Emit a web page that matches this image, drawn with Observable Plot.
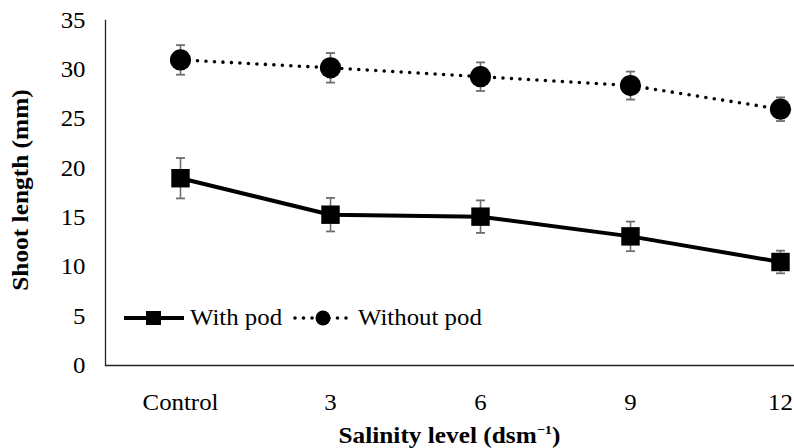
<!DOCTYPE html>
<html><head><meta charset="utf-8">
<script src="https://cdn.jsdelivr.net/npm/d3@7"></script>
<script src="https://cdn.jsdelivr.net/npm/@observablehq/plot@0.6"></script>
<style>
body{margin:0;background:#fff}
#wrap{position:relative;width:794px;height:448px;font-family:"Liberation Serif","Times New Roman",Times,"DejaVu Serif",serif;color:#000}
#wrap svg text{font-family:"Liberation Serif","Times New Roman",Times,"DejaVu Serif",serif}
#xtitle{position:absolute;left:105px;width:689px;top:422px;text-align:center;font-weight:bold;font-size:23px;line-height:28px;transform:scaleX(1.1)}
#xtitle sup{font-size:13px;vertical-align:9px;line-height:0}
#ytitle{position:absolute;left:20px;top:190px;width:0;height:0}
#ytitle span{position:absolute;left:0;top:0;transform:translate(-50%,-50%) rotate(-90deg) scaleX(1.08);white-space:nowrap;font-weight:bold;font-size:23.5px;line-height:26px}
</style></head><body><div id="wrap"></div>
<script>
const categories = ["Control","3","6","9","12"];
const withPod = [19.0,15.3,15.1,13.1,10.5];
const withPodErr = [2.05,1.7,1.65,1.5,1.15];
const withoutPod = [31.0,30.2,29.3,28.4,26.0];
const withoutPodErr = [1.5,1.5,1.45,1.42,1.2];
const yTicks = [0,5,10,15,20,25,30,35];
const seriesNames = ["With pod","Without pod"];
const yTitle = "Shoot length (mm)";
const xTitle = "Salinity level (dsm";
const xTitleSup = "−1";

const rows = [];
categories.forEach((c,i)=>{
  rows.push({cat:c, series:seriesNames[0], v:withPod[i], e:withPodErr[i]});
  rows.push({cat:c, series:seriesNames[1], v:withoutPod[i], e:withoutPodErr[i]});
});
const A = rows.filter(d=>d.series===seriesNames[0]);
const B = rows.filter(d=>d.series===seriesNames[1]);

const capSymbol = {draw(ctx,size){const r=Math.sqrt(size/Math.PI);ctx.moveTo(-r,0);ctx.lineTo(r,0);}};
const serif = "Liberation Serif, Times New Roman, Times, DejaVu Serif, serif";
const STRETCH = 1.08;

const chart = Plot.plot({
  width:794, height:448,
  marginLeft:105, marginRight:0, marginTop:20, marginBottom:83,
  style:{fontFamily:serif, fontSize:"23px", color:"#000", background:"#fff"},
  x:{type:"point", domain:categories, range:[180,780], padding:0, label:null},
  y:{domain:[0,35], ticks:yTicks, label:null},
  marks:[
    Plot.axisX({tickSize:0, tickPadding:28, label:null}),
    Plot.axisY({ticks:yTicks, tickSize:0, tickPadding:20, label:null}),
    Plot.ruleX(rows, {x:"cat", y1:d=>d.v-d.e, y2:d=>d.v+d.e, stroke:"#6e6e6e", strokeWidth:1.6}),
    Plot.dot(rows, {x:"cat", y:d=>d.v+d.e, symbol:capSymbol, r:4.5, stroke:"#6e6e6e", strokeWidth:1.8, fill:"none"}),
    Plot.dot(rows, {x:"cat", y:d=>d.v-d.e, symbol:capSymbol, r:4.5, stroke:"#6e6e6e", strokeWidth:1.8, fill:"none"}),
    Plot.line(A, {x:"cat", y:"v", stroke:"#000", strokeWidth:4}),
    Plot.line(B, {x:"cat", y:"v", stroke:"#000", strokeWidth:3.6, strokeDasharray:"0 8.5", strokeLinecap:"round"}),
    Plot.dot(A, {x:"cat", y:"v", symbol:"square", r:10.4, fill:"#000"}),
    Plot.dot(B, {x:"cat", y:"v", symbol:"circle", r:10.6, fill:"#000"}),
    Plot.ruleY([0], {stroke:"#222", strokeWidth:1.3}),
    Plot.frame({anchor:"left", stroke:"#222", strokeWidth:1.3})
  ]
});
const wrap = document.getElementById("wrap");
wrap.appendChild(chart);
// slight horizontal stretch of the tick labels, as in the reference
chart.querySelectorAll("text").forEach(t=>{
  const w = t.getComputedTextLength();
  if (w > 0) {
    t.setAttribute("textLength", (w*STRETCH).toFixed(2));
    t.setAttribute("lengthAdjust", "spacingAndGlyphs");
  }
});

const xt = document.createElement("div");
xt.id = "xtitle";
xt.textContent = xTitle;
const sup = document.createElement("sup");
sup.textContent = xTitleSup;
xt.appendChild(sup);
xt.appendChild(document.createTextNode(")"));
wrap.appendChild(xt);

const yt = document.createElement("div");
yt.id = "ytitle";
const ys = document.createElement("span");
ys.textContent = yTitle;
yt.appendChild(ys);
wrap.appendChild(yt);

// legend
const leg = d3.select(wrap).append("svg").attr("width",794).attr("height",448)
  .style("position","absolute").style("left","0").style("top","0").style("pointer-events","none");
const ly = 318;
leg.append("line").attr("x1",124).attr("x2",184).attr("y1",ly).attr("y2",ly).attr("stroke","#000").attr("stroke-width",4);
leg.append("rect").attr("x",146).attr("y",ly-7).attr("width",15).attr("height",14).attr("fill","#000");
leg.append("text").attr("font-size",23).attr("transform",`translate(190,${ly+7}) scale(${STRETCH},1)`).text(seriesNames[0]);
leg.append("line").attr("x1",295).attr("x2",350).attr("y1",ly).attr("y2",ly).attr("stroke","#000").attr("stroke-width",3.6).attr("stroke-dasharray","0 8.5").attr("stroke-linecap","round");
leg.append("circle").attr("cx",323).attr("cy",ly).attr("r",7.5).attr("fill","#000");
leg.append("text").attr("font-size",23).attr("transform",`translate(358,${ly+7}) scale(${STRETCH},1)`).text(seriesNames[1]);
</script>
</body></html>
